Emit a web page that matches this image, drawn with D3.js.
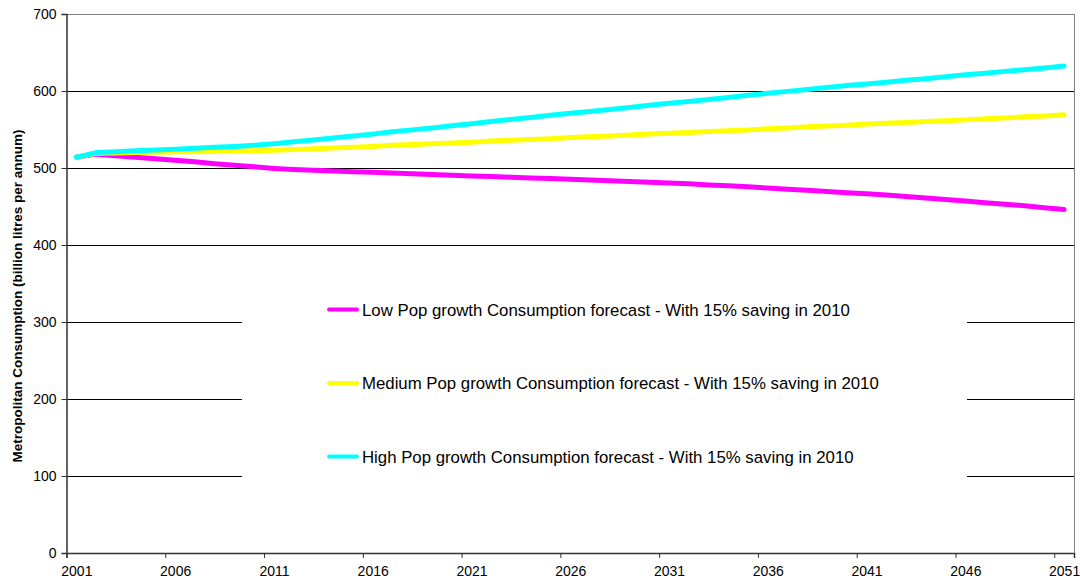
<!DOCTYPE html>
<html>
<head>
<meta charset="utf-8">
<script src="https://cdnjs.cloudflare.com/ajax/libs/d3/7.8.5/d3.min.js"></script>
<style>
  body { margin: 0; background: #fff; }
  text { font-family: "Liberation Sans", Arial, sans-serif; }
</style>
</head>
<body>
<div id="chart"></div>
<script>
// yearly categories 2001..2051
var years = d3.range(2001, 2052);
var xTicks = [2001, 2006, 2011, 2016, 2021, 2026, 2031, 2036, 2041, 2046, 2051];
var yTicks = [0, 100, 200, 300, 400, 500, 600, 700];

var lowPop = [514, 518, 516, 514, 512, 510, 508, 505.5, 503.5, 501.5,
  499.5, 498, 497, 496, 495, 494.5, 493.5, 492.5, 491.5, 490.5,
  489.5, 489, 488, 487, 486.5, 485.5, 484.5, 483.5, 482.5, 481.5,
  480.5, 479.5, 478, 477, 475.5, 474, 472.5, 471, 469.5, 468,
  466.5, 465, 463, 461, 459, 457, 455, 453, 451, 448.5, 446];

var mediumPop = [514, 519, 519.5, 520, 520.5, 521, 521, 521.5, 522, 522.5,
  523, 524, 525, 526, 527, 528, 529.5, 530.5, 531.5, 532.5,
  533.5, 535, 536, 537, 538, 539.5, 540.5, 541.5, 543, 544,
  545, 546, 547.5, 548.5, 549.5, 551, 552, 553.5, 554.5, 555.5,
  557, 558, 559, 560.5, 561.5, 562.5, 564, 565, 566.5, 567.5, 569];

var highPop = [514, 520, 521, 522.5, 523.5, 524.5, 525.5, 527, 528, 529.5,
  531.5, 534, 536.5, 539, 541.5, 544, 547, 549.5, 552, 555,
  557.5, 560.5, 563, 565.5, 568.5, 571, 573.5, 576, 578.5, 581.5,
  584, 586.5, 589, 591.5, 594.5, 597, 599.5, 602, 604.5, 607,
  609, 611.5, 614, 616, 618.5, 621, 623, 625.5, 627.5, 630, 632.5];

var seriesNames = [
  "Low Pop growth Consumption forecast - With 15% saving in 2010",
  "Medium Pop growth Consumption forecast - With 15% saving in 2010",
  "High Pop growth Consumption forecast - With 15% saving in 2010"
];
var seriesColors = ["#ff00ff", "#ffff00", "#00ffff"];

var margin = {left: 66.5, right: 6, top: 14, bottom: 32},
  width = 1080 - margin.left - margin.right,
  height = 585 - margin.top - margin.bottom;

var svg = d3.select("#chart")
  .append("svg")
  .attr("width", 1080)
  .attr("height", 585)
  .append("g")
  .attr("transform", "translate(" + margin.left + "," + margin.top + ")");

var xScale = d3.scaleLinear()
  .domain([2001, 2052])
  .range([0, width]);

var yScale = d3.scaleLinear()
  .domain([0, 700])
  .range([height, 0]);

// gridlines
svg.append("g")
  .selectAll("line")
  .data(yTicks.slice(1))
  .enter().append("line")
  .attr("x1", 0)
  .attr("x2", width)
  .attr("y1", function(d) { return Math.round(yScale(d)) + 0.5; })
  .attr("y2", function(d) { return Math.round(yScale(d)) + 0.5; })
  .attr("stroke", function(d) { return d == 700 ? "#808080" : "#000"; })
  .attr("stroke-width", 1);

// right border
svg.append("line")
  .attr("x1", width + 0.5).attr("x2", width + 0.5)
  .attr("y1", 0).attr("y2", height)
  .attr("stroke", "#808080");

// legend box hides gridlines behind it
var legendBox = {x: 242 - margin.left, y: 275 - margin.top, w: 725, h: 220};
svg.append("rect")
  .attr("x", legendBox.x)
  .attr("y", legendBox.y)
  .attr("width", legendBox.w)
  .attr("height", legendBox.h)
  .attr("fill", "#fff");

// x axis: tick marks at category edges
var xAxis = d3.axisBottom(xScale).tickValues(xTicks).tickSize(5).tickFormat("");
var gX = svg.append("g")
  .attr("transform", "translate(0," + height + ")")
  .call(xAxis);
gX.select(".domain").attr("stroke", "#333").attr("stroke-width", 1.5);
gX.selectAll(".tick line").attr("stroke", "#333");

// x labels centred on the categories
var xLabels = d3.axisBottom(xScale)
  .tickValues(xTicks.map(function(d) { return d + 0.5; }))
  .tickSize(0)
  .tickPadding(16)
  .tickFormat(function(d) { return d - 0.5; });
var gXL = svg.append("g")
  .attr("transform", "translate(0," + height + ")")
  .call(xLabels);
gXL.select(".domain").remove();
gXL.selectAll("text").attr("font-size", "14px").attr("fill", "#000")
  .attr("font-family", "'Liberation Sans', Arial, sans-serif")
  .attr("dy", "0.5em");

// y axis
var yAxis = d3.axisLeft(yScale).tickValues(yTicks).tickSize(5).tickPadding(5);
var gY = svg.append("g").call(yAxis);
gY.select(".domain").attr("stroke", "#333").attr("stroke-width", 1.5);
gY.selectAll(".tick line").attr("stroke", "#333");
gY.selectAll("text").attr("font-size", "14px").attr("fill", "#000")
  .attr("font-family", "'Liberation Sans', Arial, sans-serif");

svg.append("text")
  .attr("transform", "rotate(-90)")
  .attr("x", -(296 - margin.top))
  .attr("y", 17 - margin.left)
  .attr("dy", "0.35em")
  .style("text-anchor", "middle")
  .attr("font-size", "13.5px")
  .attr("font-weight", "bold")
  .text("Metropolitan Consumption (billion litres per annum)");

// lines
var line = d3.line()
  .x(function(d, i) { return xScale(years[i] + 0.5); })
  .y(function(d) { return yScale(d); });

[lowPop, mediumPop, highPop].forEach(function(s, i) {
  svg.append("path")
    .datum(s)
    .attr("fill", "none")
    .attr("stroke", seriesColors[i])
    .attr("stroke-width", 5)
    .attr("stroke-linejoin", "round")
    .attr("stroke-linecap", "round")
    .attr("d", line);
});

// legend
var legendY = [309.5, 383, 456.5];
var legend = svg.append("g");
seriesNames.forEach(function(name, i) {
  var ly = legendY[i] - margin.top;
  legend.append("line")
    .attr("x1", 329 - margin.left).attr("x2", 357 - margin.left)
    .attr("y1", ly).attr("y2", ly)
    .attr("stroke", seriesColors[i])
    .attr("stroke-width", 4)
    .attr("stroke-linecap", "round");
  legend.append("text")
    .attr("x", 362 - margin.left)
    .attr("y", ly)
    .attr("dy", "0.36em")
    .attr("font-size", "16.8px")
    .text(name);
});
</script>
</body>
</html>
